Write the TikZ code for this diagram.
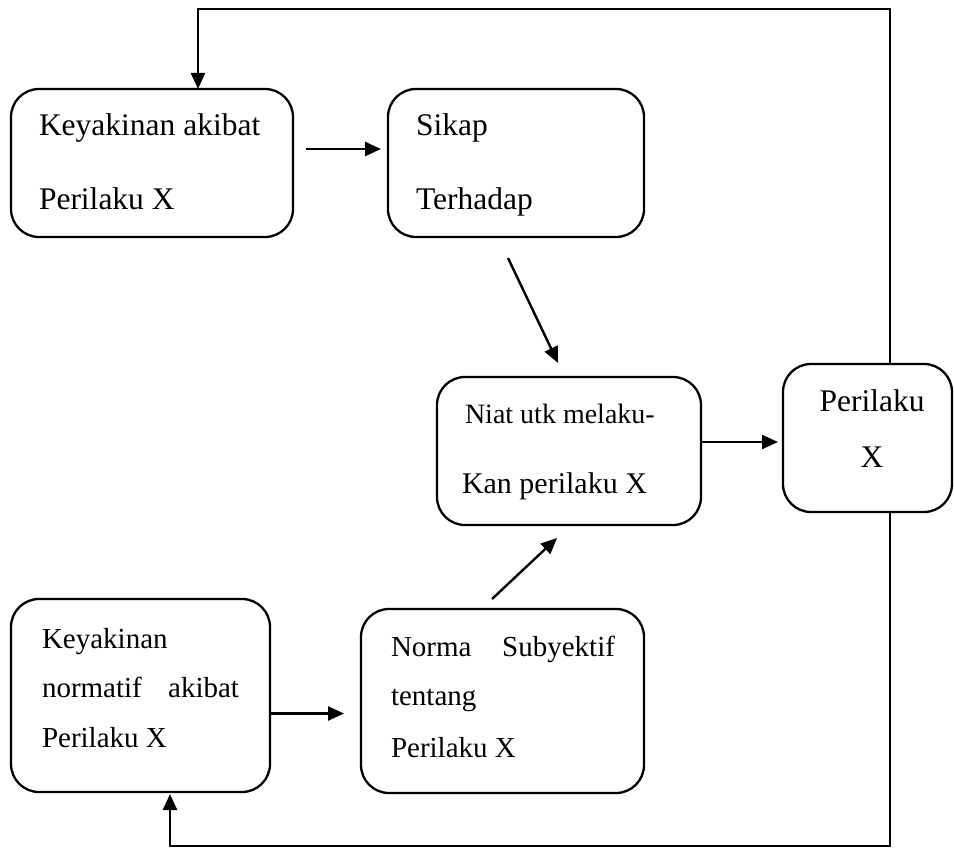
\documentclass[tikz,border=0pt]{standalone}
\usepackage{fontspec}
\setmainfont{Liberation Serif}
\usetikzlibrary{arrows.meta}
\tikzset{
  box/.style={draw, line width=2.3pt, rounded corners=28pt, inner sep=0pt, outer sep=0pt},
  arr/.style={line width=2.4pt, -{Triangle[length=16pt,width=14pt]}},
  fb/.style={line width=2pt},
  txt/.style={inner sep=0pt, outer sep=0pt, anchor=base west},
  big/.style={font=\fontsize{31.5}{36}\selectfont},
  med/.style={font=\fontsize{29}{34}\selectfont},
}
\begin{document}
\begin{tikzpicture}[x=1pt,y=-1pt]
\useasboundingbox (0,0) rectangle (954,848);
% boxes
\node[box, minimum width=282pt, minimum height=148pt] (b1) at (152,163) {};
\node[box, minimum width=256pt, minimum height=148pt] (b2) at (516,163) {};
\node[box, minimum width=264pt, minimum height=148pt] (b3) at (569,451) {};
\node[box, minimum width=169pt, minimum height=148pt] (b4) at (867.5,438) {};
\node[box, minimum width=259pt, minimum height=193pt] (b5) at (140.5,695.5) {};
\node[box, minimum width=283pt, minimum height=184pt] (b6) at (502.5,701) {};
% texts
\node[txt, big] (t1a) at (39,136) {Keyakinan akibat};
\node[txt, big] (t1b) at (39,210) {Perilaku X};
\node[txt, big] (t2a) at (416,136) {Sikap};
\node[txt, big] (t2b) at (416,210) {Terhadap};
\node[txt, font=\fontsize{28}{32}\selectfont] (t3a) at (465,423) {Niat utk melaku-};
\node[txt, font=\fontsize{30}{34}\selectfont] (t3b) at (462,493) {Kan perilaku X};
\node[txt, big, anchor=base] (t4a) at (872,411) {Perilaku};
\node[txt, big, anchor=base] (t4b) at (872,467) {X};
\node[txt, med] (t5a) at (42,648) {Keyakinan};
\node[txt, med] (t5b) at (42,697) {\makebox[197pt][s]{normatif akibat}};
\node[txt, med] (t5c) at (42,747) {Perilaku X};
\node[txt, med] (t6a) at (391,656) {\makebox[224pt][s]{Norma Subyektif}};
\node[txt, med] (t6b) at (391,705) {tentang};
\node[txt, med] (t6c) at (391,757) {Perilaku X};
% connectors
\coordinate (p12) at ([yshift=14pt]b1.east);
\draw[arr, shorten <=13pt, shorten >=7pt] (p12) -- (b2.west |- p12);
\coordinate (d1s) at (508,258);
\coordinate (d1e) at (558,363);
\draw[arr] (d1s) -- (d1e);
\coordinate (d2s) at (492,599);
\coordinate (d2e) at (557,538);
\draw[arr] (d2s) -- (d2e);
\coordinate (p34) at ([yshift=9pt]b3.east);
\draw[arr, shorten >=5pt] (p34) -- (b4.west |- p34);
\coordinate (p56) at ([yshift=-18pt]b5.east);
\draw[arr, shorten >=17pt] (p56) -- (b6.west |- p56);
% feedback loops
\coordinate (tr) at (890,9);
\coordinate (tl) at (198,9);
\draw[fb, arr] (b4.north -| tr) -- (tr) -- (tl) -- (b1.north -| tl);
\coordinate (br) at (890,846);
\coordinate (bl) at (170,846);
\draw[fb, arr, shorten >=2pt] (b4.south -| br) -- (br) -- (bl) -- (b5.south -| bl);
\end{tikzpicture}
\end{document}
